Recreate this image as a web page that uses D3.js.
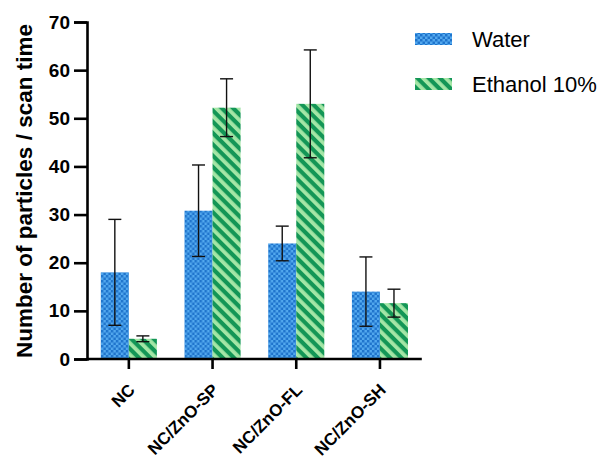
<!DOCTYPE html>
<html>
<head>
<meta charset="utf-8">
<script src="https://cdn.jsdelivr.net/npm/d3@7"></script>
<style>
  body { margin: 0; background: #fff; }
  text { font-family: Arial, "Liberation Sans", sans-serif; }
</style>
</head>
<body>
<svg id="chart" width="605" height="459"></svg>
<script>
const categories = ["NC", "NC/ZnO-SP", "NC/ZnO-FL", "NC/ZnO-SH"];
const series = ["Water", "Ethanol 10%"];
const waterMean = [18, 30.8, 24, 14];
const waterErr = [11, 9.5, 3.6, 7.2];
const ethanolMean = [4.2, 52.2, 53, 11.6];
const ethanolErr = [0.6, 6, 11.2, 2.9];
const yTicks = [0, 10, 20, 30, 40, 50, 60, 70];

const svg = d3.select("#chart");
const margin = {top: 22, left: 87};
const plotRight = margin.left + 4 * 83.7;

// fill patterns
const defs = svg.append("defs");
const chk = defs.append("pattern").attr("id", "checker")
  .attr("patternUnits", "userSpaceOnUse").attr("width", 5).attr("height", 5);
chk.append("rect").attr("width", 5).attr("height", 5).attr("fill", "#52a8ee");
chk.append("rect").attr("width", 2.5).attr("height", 2.5).attr("fill", "#1f74cc");
chk.append("rect").attr("x", 2.5).attr("y", 2.5).attr("width", 2.5).attr("height", 2.5).attr("fill", "#1f74cc");

const stripe = defs.append("pattern").attr("id", "stripes")
  .attr("patternUnits", "userSpaceOnUse").attr("width", 8).attr("height", 8)
  .attr("patternTransform", "rotate(-45)");
stripe.append("rect").attr("width", 8).attr("height", 8).attr("fill", "#139656");
stripe.append("rect").attr("width", 3.8).attr("height", 8).attr("fill", "#a4e6a6");

const fills = ["url(#checker)", "url(#stripes)"];

const x = d3.scaleBand().domain(categories)
  .range([margin.left, plotRight]).paddingInner(0.33).paddingOuter(0.165);
const xs = d3.scaleBand().domain(series).range([0, x.bandwidth()]);
const y = d3.scaleLinear().domain([0, 70]).range([359, margin.top]);

const rows = categories.map((c, i) => ({
  cat: c,
  vals: [
    {s: series[0], m: waterMean[i], e: waterErr[i]},
    {s: series[1], m: ethanolMean[i], e: ethanolErr[i]}
  ]
}));

const g = svg.append("g").selectAll("g").data(rows).join("g")
  .attr("transform", d => `translate(${x(d.cat)},0)`);

g.selectAll("rect").data(d => d.vals).join("rect")
  .attr("x", d => xs(d.s))
  .attr("y", d => y(d.m))
  .attr("width", xs.bandwidth())
  .attr("height", d => y(0) - y(d.m))
  .attr("fill", (d, i) => fills[i]);

const eb = g.selectAll("g.err").data(d => d.vals).join("g").attr("class", "err")
  .attr("transform", d => `translate(${xs(d.s) + xs.bandwidth() / 2},0)`)
  .attr("stroke", "#111").attr("stroke-width", 1.4);
eb.append("line").attr("y1", d => y(d.m + d.e)).attr("y2", d => y(d.m - d.e));
eb.append("line").attr("x1", -6.5).attr("x2", 6.5).attr("y1", d => y(d.m + d.e)).attr("y2", d => y(d.m + d.e));
eb.append("line").attr("x1", -6.5).attr("x2", 6.5).attr("y1", d => y(d.m - d.e)).attr("y2", d => y(d.m - d.e));

// axes
const yAxis = svg.append("g").attr("transform", `translate(${margin.left},0)`)
  .call(d3.axisLeft(y).tickValues(yTicks).tickSize(13).tickPadding(4));
const xAxis = svg.append("g").attr("transform", `translate(0,${y(0)})`)
  .call(d3.axisBottom(x).tickSize(10).tickSizeOuter(0));
xAxis.select(".domain").attr("d", `M${margin.left},0H${plotRight}`);

[yAxis, xAxis].forEach(a => {
  a.select(".domain").attr("stroke", "#000").attr("stroke-width", 2.6);
  a.selectAll(".tick line").attr("stroke", "#000").attr("stroke-width", 2.6);
  a.selectAll("text").attr("fill", "#000").attr("font-weight", "bold");
});
yAxis.selectAll("text").attr("font-size", 19);
xAxis.selectAll("text").attr("font-size", 17)
  .attr("text-anchor", "end")
  .attr("x", 0).attr("y", 0).attr("dy", 0)
  .attr("transform", "translate(7,32) rotate(-45)");

svg.append("text")
  .attr("transform", `translate(32,191) rotate(-90)`)
  .attr("text-anchor", "middle")
  .attr("font-size", 22.5).attr("font-weight", "bold")
  .text("Number of particles / scan time");

// legend
const lg = svg.append("g").selectAll("g").data(series).join("g")
  .attr("transform", (d, i) => `translate(415,${39 + i * 45})`);
lg.append("rect").attr("y", -6).attr("width", 37).attr("height", 12)
  .attr("fill", (d, i) => fills[i]);
lg.append("text").attr("x", 57).attr("dy", "0.35em").attr("font-size", 22)
  .text(d => d);
</script>
</body>
</html>
